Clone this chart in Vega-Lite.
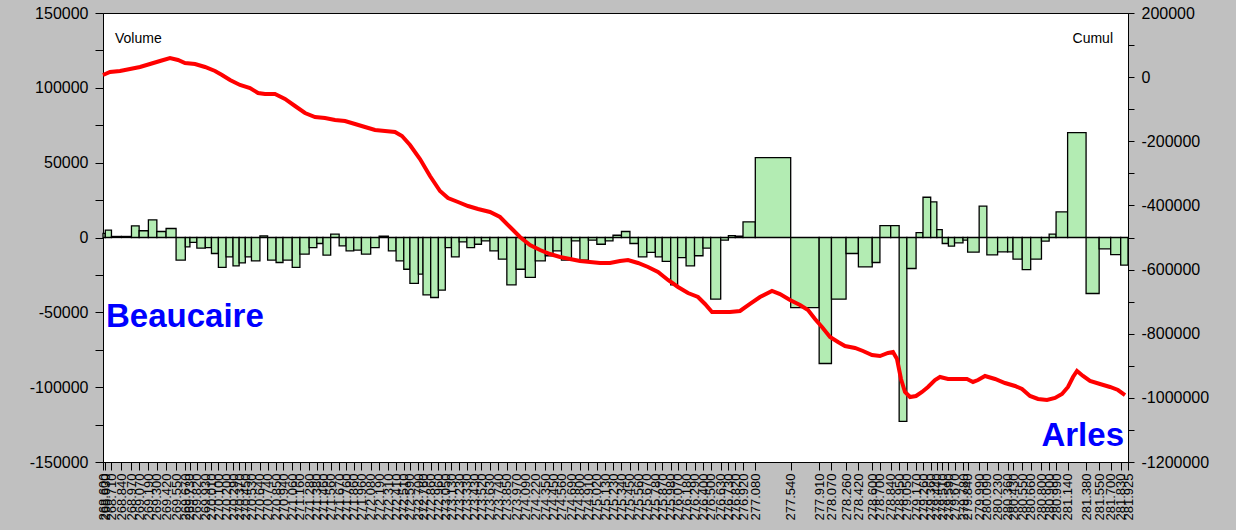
{
  "$schema": "https://vega.github.io/schema/vega-lite/v6.json",
  "autosize": "none",
  "width": 1025,
  "height": 449,
  "padding": {"left": 103, "top": 13, "right": 108, "bottom": 68},
  "background": "#c0c0c0",
  "config": {
    "view": {"fill": "white", "stroke": "black", "strokeWidth": 1},
    "axis": {"labelFont": "Liberation Sans", "labelColor": "black", "tickColor": "black", "domainColor": "black", "grid": false, "title": null, "tickWidth": 1}
  },
  "datasets": {
    "sections": [
      {"debut": 268.60, "fin": 268.63, "volume": 2700},
      {"debut": 268.63, "fin": 268.71, "volume": 4900},
      {"debut": 268.71, "fin": 268.84, "volume": 700},
      {"debut": 268.84, "fin": 268.97, "volume": 700},
      {"debut": 268.97, "fin": 269.07, "volume": 7800},
      {"debut": 269.07, "fin": 269.19, "volume": 4500},
      {"debut": 269.19, "fin": 269.30, "volume": 11800},
      {"debut": 269.30, "fin": 269.42, "volume": 4000},
      {"debut": 269.42, "fin": 269.55, "volume": 6000},
      {"debut": 269.55, "fin": 269.67, "volume": -15100},
      {"debut": 269.67, "fin": 269.73, "volume": -6200},
      {"debut": 269.73, "fin": 269.82, "volume": -3300},
      {"debut": 269.82, "fin": 269.93, "volume": -7100},
      {"debut": 269.93, "fin": 270.01, "volume": -6700},
      {"debut": 270.01, "fin": 270.10, "volume": -10700},
      {"debut": 270.10, "fin": 270.20, "volume": -20000},
      {"debut": 270.20, "fin": 270.29, "volume": -12900},
      {"debut": 270.29, "fin": 270.37, "volume": -18900},
      {"debut": 270.37, "fin": 270.45, "volume": -17000},
      {"debut": 270.45, "fin": 270.53, "volume": -12900},
      {"debut": 270.53, "fin": 270.64, "volume": -15600},
      {"debut": 270.64, "fin": 270.74, "volume": 1100},
      {"debut": 270.74, "fin": 270.85, "volume": -15100},
      {"debut": 270.85, "fin": 270.94, "volume": -16700},
      {"debut": 270.94, "fin": 271.06, "volume": -15100},
      {"debut": 271.06, "fin": 271.16, "volume": -20000},
      {"debut": 271.16, "fin": 271.28, "volume": -11100},
      {"debut": 271.28, "fin": 271.38, "volume": -6700},
      {"debut": 271.38, "fin": 271.46, "volume": -4000},
      {"debut": 271.46, "fin": 271.56, "volume": -11800},
      {"debut": 271.56, "fin": 271.67, "volume": 2200},
      {"debut": 271.67, "fin": 271.76, "volume": -5600},
      {"debut": 271.76, "fin": 271.86, "volume": -8900},
      {"debut": 271.86, "fin": 271.96, "volume": -8500},
      {"debut": 271.96, "fin": 272.08, "volume": -11100},
      {"debut": 272.08, "fin": 272.19, "volume": -6700},
      {"debut": 272.19, "fin": 272.31, "volume": 900},
      {"debut": 272.31, "fin": 272.41, "volume": -8900},
      {"debut": 272.41, "fin": 272.51, "volume": -15600},
      {"debut": 272.51, "fin": 272.59, "volume": -21200},
      {"debut": 272.59, "fin": 272.70, "volume": -30700},
      {"debut": 272.70, "fin": 272.76, "volume": -24500},
      {"debut": 272.76, "fin": 272.86, "volume": -38300},
      {"debut": 272.86, "fin": 272.96, "volume": -40100},
      {"debut": 272.96, "fin": 273.05, "volume": -35200},
      {"debut": 273.05, "fin": 273.13, "volume": -6700},
      {"debut": 273.13, "fin": 273.23, "volume": -12900},
      {"debut": 273.23, "fin": 273.33, "volume": -2900},
      {"debut": 273.33, "fin": 273.43, "volume": -6700},
      {"debut": 273.43, "fin": 273.52, "volume": -4500},
      {"debut": 273.52, "fin": 273.63, "volume": -2200},
      {"debut": 273.63, "fin": 273.74, "volume": -8900},
      {"debut": 273.74, "fin": 273.85, "volume": -14500},
      {"debut": 273.85, "fin": 273.97, "volume": -31600},
      {"debut": 273.97, "fin": 274.09, "volume": -21200},
      {"debut": 274.09, "fin": 274.22, "volume": -26700},
      {"debut": 274.22, "fin": 274.35, "volume": -15600},
      {"debut": 274.35, "fin": 274.45, "volume": -12200},
      {"debut": 274.45, "fin": 274.56, "volume": -8900},
      {"debut": 274.56, "fin": 274.69, "volume": -15100},
      {"debut": 274.69, "fin": 274.80, "volume": -2200},
      {"debut": 274.80, "fin": 274.91, "volume": -15100},
      {"debut": 274.91, "fin": 275.02, "volume": -1800},
      {"debut": 275.02, "fin": 275.13, "volume": -4500},
      {"debut": 275.13, "fin": 275.23, "volume": -2200},
      {"debut": 275.23, "fin": 275.34, "volume": 1500},
      {"debut": 275.34, "fin": 275.45, "volume": 4000},
      {"debut": 275.45, "fin": 275.56, "volume": -4000},
      {"debut": 275.56, "fin": 275.67, "volume": -12900},
      {"debut": 275.67, "fin": 275.78, "volume": -10000},
      {"debut": 275.78, "fin": 275.87, "volume": -12900},
      {"debut": 275.87, "fin": 275.98, "volume": -16000},
      {"debut": 275.98, "fin": 276.07, "volume": -31600},
      {"debut": 276.07, "fin": 276.18, "volume": -13400},
      {"debut": 276.18, "fin": 276.29, "volume": -18900},
      {"debut": 276.29, "fin": 276.40, "volume": -12200},
      {"debut": 276.40, "fin": 276.50, "volume": -7100},
      {"debut": 276.50, "fin": 276.63, "volume": -41200},
      {"debut": 276.63, "fin": 276.73, "volume": -1800},
      {"debut": 276.73, "fin": 276.82, "volume": 1300},
      {"debut": 276.82, "fin": 276.92, "volume": 900},
      {"debut": 276.92, "fin": 277.08, "volume": 10500},
      {"debut": 277.08, "fin": 277.54, "volume": 53400},
      {"debut": 277.54, "fin": 277.91, "volume": -46800},
      {"debut": 277.91, "fin": 278.07, "volume": -84200},
      {"debut": 278.07, "fin": 278.26, "volume": -41200},
      {"debut": 278.26, "fin": 278.42, "volume": -10700},
      {"debut": 278.42, "fin": 278.60, "volume": -19600},
      {"debut": 278.60, "fin": 278.70, "volume": -16700},
      {"debut": 278.70, "fin": 278.84, "volume": 8000},
      {"debut": 278.84, "fin": 278.95, "volume": 8000},
      {"debut": 278.95, "fin": 279.05, "volume": -122900},
      {"debut": 279.05, "fin": 279.17, "volume": -20700},
      {"debut": 279.17, "fin": 279.26, "volume": 3300},
      {"debut": 279.26, "fin": 279.36, "volume": 26900},
      {"debut": 279.36, "fin": 279.44, "volume": 23800},
      {"debut": 279.44, "fin": 279.51, "volume": 5300},
      {"debut": 279.51, "fin": 279.59, "volume": -4000},
      {"debut": 279.59, "fin": 279.67, "volume": -5800},
      {"debut": 279.67, "fin": 279.78, "volume": -3600},
      {"debut": 279.78, "fin": 279.84, "volume": -1800},
      {"debut": 279.84, "fin": 279.99, "volume": -9800},
      {"debut": 279.99, "fin": 280.09, "volume": 20900},
      {"debut": 280.09, "fin": 280.23, "volume": -11600},
      {"debut": 280.23, "fin": 280.36, "volume": -9600},
      {"debut": 280.36, "fin": 280.43, "volume": -9600},
      {"debut": 280.43, "fin": 280.55, "volume": -14500},
      {"debut": 280.55, "fin": 280.66, "volume": -21400},
      {"debut": 280.66, "fin": 280.80, "volume": -14500},
      {"debut": 280.80, "fin": 280.90, "volume": -2400},
      {"debut": 280.90, "fin": 280.99, "volume": 2200},
      {"debut": 280.99, "fin": 281.14, "volume": 17100},
      {"debut": 281.14, "fin": 281.38, "volume": 70100},
      {"debut": 281.38, "fin": 281.55, "volume": -37400},
      {"debut": 281.55, "fin": 281.70, "volume": -7600},
      {"debut": 281.70, "fin": 281.83, "volume": -11400},
      {"debut": 281.83, "fin": 281.925, "volume": -18500}
    ],
    "cumul": [
      {"km": 268.600, "cumul": 6700}, {"km": 268.691, "cumul": 16000}, {"km": 268.821, "cumul": 19200},
      {"km": 268.951, "cumul": 25400}, {"km": 269.081, "cumul": 31600}, {"km": 269.211, "cumul": 41000},
      {"km": 269.341, "cumul": 50300}, {"km": 269.471, "cumul": 59700}, {"km": 269.575, "cumul": 53500},
      {"km": 269.666, "cumul": 44100}, {"km": 269.796, "cumul": 41000}, {"km": 269.926, "cumul": 31600},
      {"km": 270.056, "cumul": 19200}, {"km": 270.147, "cumul": 6700}, {"km": 270.251, "cumul": -8900},
      {"km": 270.381, "cumul": -24500}, {"km": 270.511, "cumul": -33900}, {"km": 270.615, "cumul": -49400},
      {"km": 270.706, "cumul": -52600}, {"km": 270.836, "cumul": -52600}, {"km": 270.966, "cumul": -68100},
      {"km": 271.096, "cumul": -90000}, {"km": 271.226, "cumul": -111800}, {"km": 271.356, "cumul": -124300},
      {"km": 271.486, "cumul": -127400}, {"km": 271.616, "cumul": -133600}, {"km": 271.746, "cumul": -136700},
      {"km": 271.876, "cumul": -146100}, {"km": 272.006, "cumul": -155500}, {"km": 272.136, "cumul": -164800},
      {"km": 272.266, "cumul": -167900}, {"km": 272.396, "cumul": -171000}, {"km": 272.487, "cumul": -183500},
      {"km": 272.591, "cumul": -211600}, {"km": 272.721, "cumul": -255200}, {"km": 272.851, "cumul": -308200},
      {"km": 272.981, "cumul": -355000}, {"km": 273.085, "cumul": -376800}, {"km": 273.215, "cumul": -389300},
      {"km": 273.345, "cumul": -401800}, {"km": 273.475, "cumul": -411100}, {"km": 273.631, "cumul": -420500},
      {"km": 273.761, "cumul": -436100}, {"km": 273.891, "cumul": -467300}, {"km": 274.021, "cumul": -498400},
      {"km": 274.151, "cumul": -523400}, {"km": 274.281, "cumul": -539000}, {"km": 274.411, "cumul": -551400},
      {"km": 274.541, "cumul": -560800}, {"km": 274.671, "cumul": -567000}, {"km": 274.801, "cumul": -573300},
      {"km": 274.931, "cumul": -576400}, {"km": 275.061, "cumul": -579500}, {"km": 275.191, "cumul": -579500},
      {"km": 275.321, "cumul": -573300}, {"km": 275.425, "cumul": -570100}, {"km": 275.555, "cumul": -579500},
      {"km": 275.685, "cumul": -592000}, {"km": 275.815, "cumul": -607600}, {"km": 275.945, "cumul": -632500},
      {"km": 276.075, "cumul": -654300}, {"km": 276.205, "cumul": -673000}, {"km": 276.335, "cumul": -685500},
      {"km": 276.426, "cumul": -707300}, {"km": 276.517, "cumul": -732300}, {"km": 276.621, "cumul": -732300},
      {"km": 276.751, "cumul": -732300}, {"km": 276.881, "cumul": -729200}, {"km": 277.011, "cumul": -707300},
      {"km": 277.141, "cumul": -685500}, {"km": 277.297, "cumul": -666800}, {"km": 277.401, "cumul": -676200},
      {"km": 277.531, "cumul": -694900}, {"km": 277.661, "cumul": -710500}, {"km": 277.765, "cumul": -726000},
      {"km": 277.856, "cumul": -754100}, {"km": 277.947, "cumul": -779100}, {"km": 278.051, "cumul": -810200},
      {"km": 278.155, "cumul": -825800}, {"km": 278.246, "cumul": -838300}, {"km": 278.376, "cumul": -844500},
      {"km": 278.480, "cumul": -853900}, {"km": 278.597, "cumul": -866400}, {"km": 278.701, "cumul": -869500},
      {"km": 278.805, "cumul": -860100}, {"km": 278.870, "cumul": -857000}, {"km": 278.922, "cumul": -878800},
      {"km": 278.974, "cumul": -941200}, {"km": 279.026, "cumul": -981700}, {"km": 279.091, "cumul": -997300},
      {"km": 279.169, "cumul": -994200}, {"km": 279.247, "cumul": -981700}, {"km": 279.325, "cumul": -966100},
      {"km": 279.416, "cumul": -944300}, {"km": 279.481, "cumul": -935000}, {"km": 279.585, "cumul": -941200},
      {"km": 279.715, "cumul": -941200}, {"km": 279.832, "cumul": -941200}, {"km": 279.910, "cumul": -950500},
      {"km": 279.975, "cumul": -944300}, {"km": 280.066, "cumul": -931800}, {"km": 280.196, "cumul": -941200},
      {"km": 280.326, "cumul": -953700}, {"km": 280.456, "cumul": -963000}, {"km": 280.547, "cumul": -972400},
      {"km": 280.651, "cumul": -994200}, {"km": 280.755, "cumul": -1003500}, {"km": 280.872, "cumul": -1006700},
      {"km": 280.976, "cumul": -1000400}, {"km": 281.067, "cumul": -988000}, {"km": 281.145, "cumul": -966100},
      {"km": 281.210, "cumul": -935000}, {"km": 281.262, "cumul": -916200}, {"km": 281.340, "cumul": -931800},
      {"km": 281.431, "cumul": -947400}, {"km": 281.561, "cumul": -956800}, {"km": 281.691, "cumul": -966100},
      {"km": 281.795, "cumul": -975500}, {"km": 281.886, "cumul": -991100}
    ]
  },
  "layer": [
    {
      "layer": [
        {
          "data": {"name": "sections"},
          "mark": {"type": "rect", "fill": "#b3ecb3", "stroke": "black", "strokeWidth": 1.3},
          "encoding": {
            "x": {"field": "debut", "type": "quantitative",
                  "scale": {"domain": [268.6, 281.925], "nice": false, "zero": false},
                  "axis": {"values": [268.60,268.63,268.71,268.84,268.97,269.07,269.19,269.30,269.42,269.55,269.67,269.73,269.82,269.93,270.01,270.10,270.20,270.29,270.37,270.45,270.53,270.64,270.74,270.85,270.94,271.06,271.16,271.28,271.38,271.46,271.56,271.67,271.76,271.86,271.96,272.08,272.19,272.31,272.41,272.51,272.59,272.70,272.76,272.86,272.96,273.05,273.13,273.23,273.33,273.43,273.52,273.63,273.74,273.85,273.97,274.09,274.22,274.35,274.45,274.56,274.69,274.80,274.91,275.02,275.13,275.23,275.34,275.45,275.56,275.67,275.78,275.87,275.98,276.07,276.18,276.29,276.40,276.50,276.63,276.73,276.82,276.92,277.08,277.54,277.91,278.07,278.26,278.42,278.60,278.70,278.84,278.95,279.05,279.17,279.26,279.36,279.44,279.51,279.59,279.67,279.78,279.84,279.99,280.09,280.23,280.36,280.43,280.55,280.66,280.80,280.90,280.99,281.14,281.38,281.55,281.70,281.83,281.925],
                           "tickCount": 1000,
                           "format": ".3f", "labelAngle": -90, "labelFontSize": 13, "labelOverlap": false,
                           "labelBound": false, "labelFlush": false, "tickSize": 8, "labelPadding": 3}},
            "x2": {"field": "fin"},
            "y": {"field": "volume", "type": "quantitative",
                  "scale": {"domain": [-150000, 150000], "nice": false},
                  "axis": {"orient": "left",
                           "values": [-150000,-125000,-100000,-75000,-50000,-25000,0,25000,50000,75000,100000,125000,150000],
                           "tickCount": 100,
                           "labelExpr": "datum.value % 50000 === 0 ? toString(datum.value) : ''",
                           "labelFontSize": 16, "tickSize": 8, "labelPadding": 7}},
            "y2": {"datum": 0}
          }
        },
        {
          "mark": {"type": "rule", "stroke": "black", "strokeWidth": 1.5},
          "encoding": {"y": {"datum": 0, "type": "quantitative"}}
        },
        {
          "data": {"values": [{"texte": "Volume", "km": 268.756, "volume": 130000}]},
          "mark": {"type": "text", "align": "left", "baseline": "alphabetic", "font": "Liberation Sans", "fontSize": 14, "color": "black"},
          "encoding": {
            "x": {"field": "km", "type": "quantitative"},
            "y": {"field": "volume", "type": "quantitative"},
            "text": {"field": "texte"}
          }
        },
        {
          "data": {"values": [{"texte": "Cumul", "km": 281.73, "volume": 130000}]},
          "mark": {"type": "text", "align": "right", "baseline": "alphabetic", "font": "Liberation Sans", "fontSize": 14, "color": "black"},
          "encoding": {
            "x": {"field": "km", "type": "quantitative"},
            "y": {"field": "volume", "type": "quantitative"},
            "text": {"field": "texte"}
          }
        },
        {
          "data": {"values": [{"texte": "Beaucaire", "km": 268.639, "volume": -60000}]},
          "mark": {"type": "text", "align": "left", "baseline": "alphabetic", "font": "Liberation Sans", "fontSize": 33, "fontWeight": "bold", "color": "#0000ff"},
          "encoding": {
            "x": {"field": "km", "type": "quantitative"},
            "y": {"field": "volume", "type": "quantitative"},
            "text": {"field": "texte"}
          }
        },
        {
          "data": {"values": [{"texte": "Arles", "km": 281.873, "volume": -139300}]},
          "mark": {"type": "text", "align": "right", "baseline": "alphabetic", "font": "Liberation Sans", "fontSize": 33, "fontWeight": "bold", "color": "#0000ff"},
          "encoding": {
            "x": {"field": "km", "type": "quantitative"},
            "y": {"field": "volume", "type": "quantitative"},
            "text": {"field": "texte"}
          }
        }
      ]
    },
    {
      "layer": [
        {
          "mark": {"type": "rule", "stroke": "#ff0000", "strokeWidth": 3, "strokeDash": [3, 3]},
          "encoding": {"y": {"datum": 0, "type": "quantitative"}}
        },
        {
          "data": {"name": "cumul"},
          "mark": {"type": "line", "stroke": "#ff0000", "strokeWidth": 4, "interpolate": "linear"},
          "encoding": {
            "x": {"field": "km", "type": "quantitative"},
            "y": {"field": "cumul", "type": "quantitative",
                  "scale": {"domain": [-1200000, 200000], "nice": false},
                  "axis": {"orient": "right",
                           "values": [-1200000,-1100000,-1000000,-900000,-800000,-700000,-600000,-500000,-400000,-300000,-200000,-100000,0,100000,200000],
                           "tickCount": 100,
                           "labelExpr": "datum.value % 200000 === 0 ? toString(datum.value) : ''",
                           "labelFontSize": 16, "tickSize": 6, "labelPadding": 7}}
          }
        }
      ]
    }
  ],
  "resolve": {"scale": {"y": "independent"}}
}
